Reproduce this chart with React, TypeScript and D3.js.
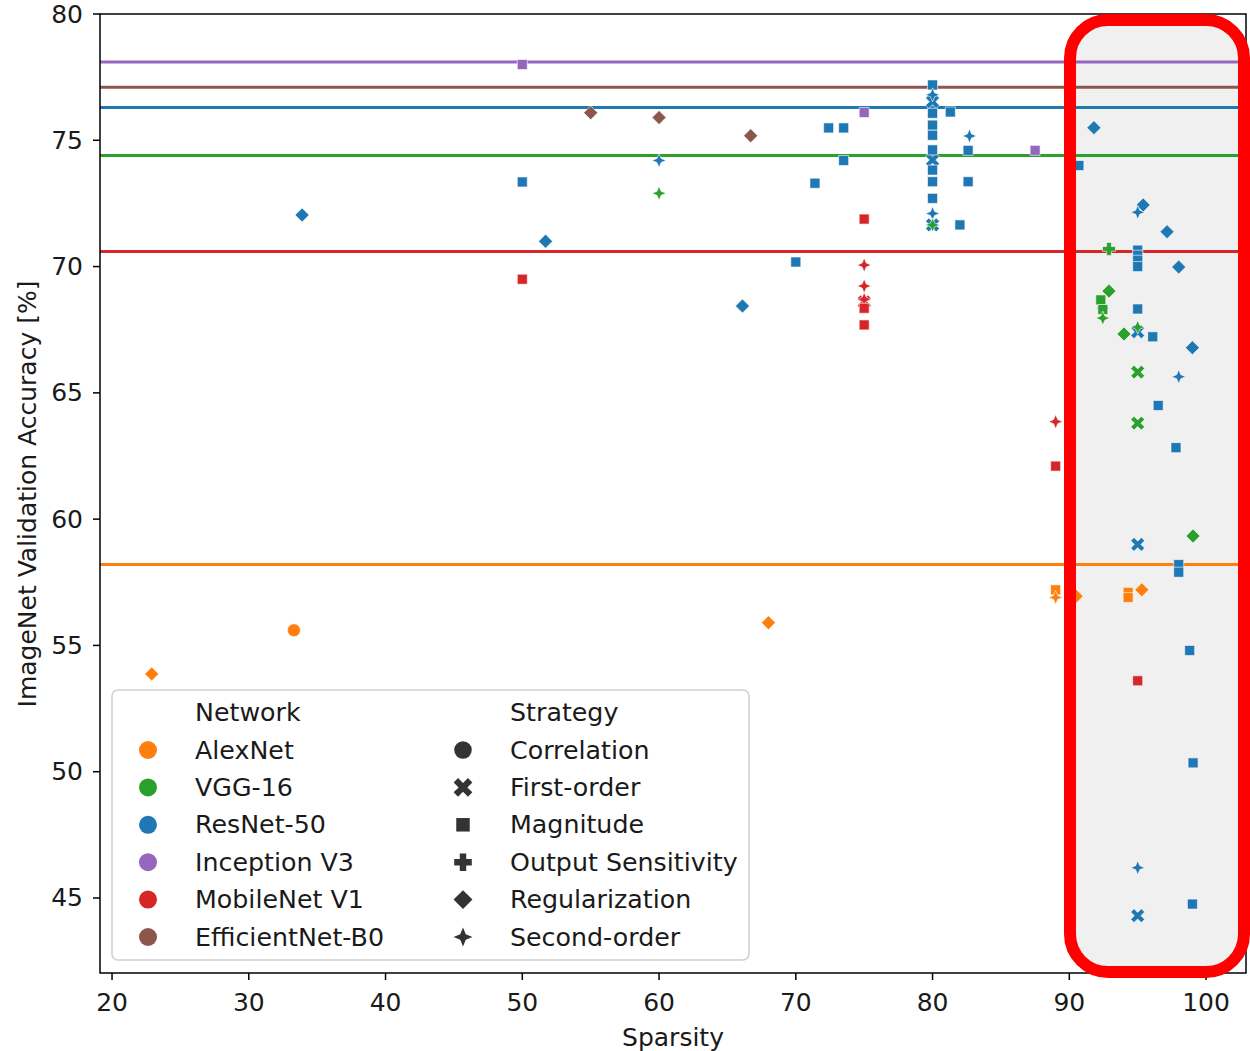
import * as d3 from 'd3';

// ---- data ----
const networks = ['AlexNet', 'VGG-16', 'ResNet-50', 'Inception V3', 'MobileNet V1', 'EfficientNet-B0'];
const networkColors = ['#ff7f0e', '#2ca02c', '#1f77b4', '#9467bd', '#d62728', '#8c564b'];
const strategies = ['Correlation', 'First-order', 'Magnitude', 'Output Sensitivity', 'Regularization', 'Second-order'];

// dense baseline accuracy per network (horizontal lines)
const baselines = [58.2, 74.4, 76.3, 78.1, 70.6, 77.1];

// [sparsity, accuracy, strategy]
type Pt = [number, number, string];

const resnetPoints: Pt[] = [
  [33.9, 72.04, 'Regularization'], [50, 73.35, 'Magnitude'], [51.7, 71.0, 'Regularization'],
  [60, 74.2, 'Second-order'], [66.1, 68.44, 'Regularization'], [70.0, 70.18, 'Magnitude'],
  [71.4, 73.3, 'Magnitude'], [72.4, 75.49, 'Magnitude'], [73.5, 75.49, 'Magnitude'], [73.5, 74.2, 'Magnitude'],
  [80, 76.53, 'First-order'], [80, 74.22, 'First-order'], [80, 71.65, 'First-order'],
  [80, 77.19, 'Magnitude'], [80, 76.8, 'Second-order'], [80, 76.07, 'Magnitude'], [80, 75.6, 'Magnitude'],
  [80, 75.2, 'Magnitude'], [80, 74.62, 'Magnitude'], [80, 73.82, 'Magnitude'], [80, 73.36, 'Magnitude'],
  [80, 72.7, 'Magnitude'], [80, 72.1, 'Second-order'],
  [81.3, 76.12, 'Magnitude'], [82.0, 71.65, 'Magnitude'], [82.7, 75.17, 'Second-order'],
  [82.6, 74.6, 'Magnitude'], [82.6, 73.36, 'Magnitude'],
  [91.8, 75.5, 'Regularization'], [90.7, 74.0, 'Magnitude'],
  [95.4, 72.44, 'Regularization'], [95.0, 72.15, 'Second-order'], [97.15, 71.38, 'Regularization'],
  [95.0, 70.65, 'Magnitude'], [95.0, 70.45, 'Magnitude'], [95.0, 70.25, 'Magnitude'], [95.0, 70.0, 'Magnitude'],
  [98.0, 69.98, 'Regularization'], [95.0, 68.32, 'Magnitude'], [95.0, 67.42, 'First-order'],
  [96.1, 67.22, 'Magnitude'], [99.0, 66.79, 'Regularization'], [98.0, 65.64, 'Second-order'],
  [96.5, 64.5, 'Magnitude'], [97.8, 62.83, 'Magnitude'], [95.0, 59.0, 'First-order'],
  [98.0, 58.2, 'Magnitude'], [98.0, 57.9, 'Magnitude'], [98.8, 54.8, 'Magnitude'],
  [99.05, 50.35, 'Magnitude'], [95.0, 46.2, 'Second-order'], [95.0, 44.3, 'First-order'],
  [99.0, 44.76, 'Magnitude'],
];

const alexnetPoints: Pt[] = [
  [22.9, 53.87, 'Regularization'], [33.3, 55.6, 'Correlation'], [68.0, 55.9, 'Regularization'],
  [89.0, 57.2, 'Magnitude'], [89.0, 56.9, 'Second-order'], [90.5, 56.95, 'Regularization'],
  [94.3, 57.1, 'Magnitude'], [94.3, 56.9, 'Magnitude'], [95.3, 57.2, 'Regularization'],
];

const vggPoints: Pt[] = [
  [60, 72.9, 'Second-order'], [80, 71.65, 'Second-order'], [92.9, 70.7, 'Output Sensitivity'],
  [92.9, 69.03, 'Regularization'], [92.45, 68.36, 'Second-order'], [92.3, 68.68, 'Magnitude'],
  [92.45, 68.3, 'Magnitude'], [92.45, 67.96, 'Second-order'], [94.0, 67.33, 'Regularization'],
  [95.0, 67.6, 'Second-order'], [95.0, 65.82, 'First-order'], [95.0, 63.8, 'First-order'],
  [99.05, 59.33, 'Regularization'],
];

const inceptionPoints: Pt[] = [
  [50, 78.0, 'Magnitude'], [75, 76.1, 'Magnitude'], [87.5, 74.6, 'Magnitude'],
];

const mobilenetPoints: Pt[] = [
  [50, 69.5, 'Magnitude'], [75, 71.88, 'Magnitude'], [75, 70.06, 'Second-order'],
  [75, 69.23, 'Second-order'], [75, 68.6, 'First-order'], [75, 68.7, 'Second-order'], [75, 68.35, 'Magnitude'],
  [75, 67.69, 'Magnitude'], [89.0, 63.86, 'Second-order'], [89.0, 62.1, 'Magnitude'],
  [95.0, 53.6, 'Magnitude'],
];

const efficientnetPoints: Pt[] = [
  [55.0, 76.09, 'Regularization'], [60.0, 75.9, 'Regularization'], [66.7, 75.18, 'Regularization'],
];

// drawing order: ResNet first so the others sit on top
const seriesOrder: [string, Pt[]][] = [
  ['ResNet-50', resnetPoints], ['AlexNet', alexnetPoints], ['VGG-16', vggPoints],
  ['Inception V3', inceptionPoints], ['MobileNet V1', mobilenetPoints], ['EfficientNet-B0', efficientnetPoints],
];

const xTicks = [20, 30, 40, 50, 60, 70, 80, 90, 100];
const yTicks = [45, 50, 55, 60, 65, 70, 75, 80];

// ---- marker shapes ----
function poly(pts: [number, number][]) {
  return 'M' + pts.map(p => `${p[0].toFixed(2)},${p[1].toFixed(2)}`).join('L') + 'Z';
}
function plusPts(L: number, w: number): [number, number][] {
  return [[-w, -L], [w, -L], [w, -w], [L, -w], [L, w], [w, w], [w, L], [-w, L], [-w, w], [-L, w], [-L, -w], [-w, -w]];
}
function markerPath(strategy: string, k = 1) {
  switch (strategy) {
    case 'Correlation':
      return d3.symbol(d3.symbolCircle, Math.PI * (6.5 * k) ** 2)() as string;
    case 'First-order': {
      const c = Math.SQRT1_2;
      return poly(plusPts(7.5 * k, 2.3 * k).map(([x, y]) => [x * c - y * c, x * c + y * c]));
    }
    case 'Magnitude':
      return poly([[-5 * k, -5 * k], [5 * k, -5 * k], [5 * k, 5 * k], [-5 * k, 5 * k]]);
    case 'Output Sensitivity':
      return poly(plusPts(6.5 * k, 2.4 * k));
    case 'Regularization':
      return poly([[0, -7 * k], [7 * k, 0], [0, 7 * k], [-7 * k, 0]]);
    default: {
      // four-pointed star
      const R = 7 * k, r = 2.9 * k;
      const pts: [number, number][] = [];
      for (let i = 0; i < 8; i++) {
        const a = (i * Math.PI) / 4;
        const rad = i % 2 === 0 ? R : r;
        pts.push([rad * Math.sin(a), -rad * Math.cos(a)]);
      }
      return poly(pts);
    }
  }
}

const W = 1250, H = 1051;
const left = 100, right = 1246, top = 14, bottom = 973;
const FONT = 'DejaVu Sans, sans-serif';

export default function App() {
  const x = d3.scaleLinear().domain([19.12, 102.92]).range([left, right]);
  const y = d3.scaleLinear().domain([42.03, 80]).range([bottom, top]);
  const color = d3.scaleOrdinal<string, string>().domain(networks).range(networkColors);

  const legendRows = [0, 1, 2, 3, 4, 5];
  const legendY = (i: number) => 750 + i * 37.4;

  return (
    <svg width={W} height={H} style={{ position: 'absolute', left: 0, top: 0, display: 'block', background: '#fff' }}
      fontFamily={FONT}>
      {/* highlighted region fill */}
      <rect x={1070} y={20} width={174} height={952} rx={38} fill="#f0f0f0" />

      {/* baselines */}
      {networks.map((n, i) => (
        <line key={n} x1={left} x2={right} y1={y(baselines[i])} y2={y(baselines[i])}
          stroke={color(n)} strokeWidth={3} />
      ))}

      {/* points */}
      {seriesOrder.map(([n, pts]) => (
        <g key={n} fill={color(n)} stroke="#fff" strokeWidth={0.6}>
          {pts.map((p, i) => (
            <path key={i} transform={`translate(${x(p[0])},${y(p[1])})`} d={markerPath(p[2])} />
          ))}
        </g>
      ))}

      {/* spines */}
      <rect x={left} y={top} width={right - left} height={bottom - top} fill="none" stroke="#000" strokeWidth={1.5} />

      {/* x axis */}
      {xTicks.map(t => (
        <g key={t} transform={`translate(${x(t)},${bottom})`}>
          <line y2={7} stroke="#000" strokeWidth={1.5} />
          <text y={29} textAnchor="middle" dominantBaseline="central" fontSize={25} fill="#1a1a1a">{t}</text>
        </g>
      ))}
      <text x={673} y={1037} textAnchor="middle" dominantBaseline="central" fontSize={25} fill="#1a1a1a">Sparsity</text>

      {/* y axis */}
      {yTicks.map(t => (
        <g key={t} transform={`translate(${left},${y(t)})`}>
          <line x2={-7} stroke="#000" strokeWidth={1.5} />
          <text x={-17} textAnchor="end" dominantBaseline="central" fontSize={25} fill="#1a1a1a">{t}</text>
        </g>
      ))}
      <text transform="translate(27,494) rotate(-90)" textAnchor="middle" dominantBaseline="central" fontSize={25}
        fill="#1a1a1a">ImageNet Validation Accuracy [%]</text>

      {/* legend */}
      <rect x={112} y={690} width={637} height={270} rx={6} fill="#fff" fillOpacity={0.8} stroke="#d0d0d0" strokeWidth={1.5} />
      <text x={195} y={712} dominantBaseline="central" fontSize={25.3} fill="#1a1a1a">Network</text>
      <text x={510} y={712} dominantBaseline="central" fontSize={25.3} fill="#1a1a1a">Strategy</text>
      {legendRows.map(i => (
        <g key={i}>
          <circle cx={148} cy={legendY(i)} r={9} fill={color(networks[i])} />
          <text x={195} y={legendY(i)} dominantBaseline="central" fontSize={25.3} fill="#1a1a1a">{networks[i]}</text>
          <path transform={`translate(463,${legendY(i)})`} d={markerPath(strategies[i], 1.35)} fill="#333" />
          <text x={510} y={legendY(i)} dominantBaseline="central" fontSize={25.3} fill="#1a1a1a">{strategies[i]}</text>
        </g>
      ))}

      {/* highlight border */}
      <rect x={1070} y={20} width={174} height={952} rx={38} fill="none" stroke="#ff0000" strokeWidth={12} />
    </svg>
  );
}
